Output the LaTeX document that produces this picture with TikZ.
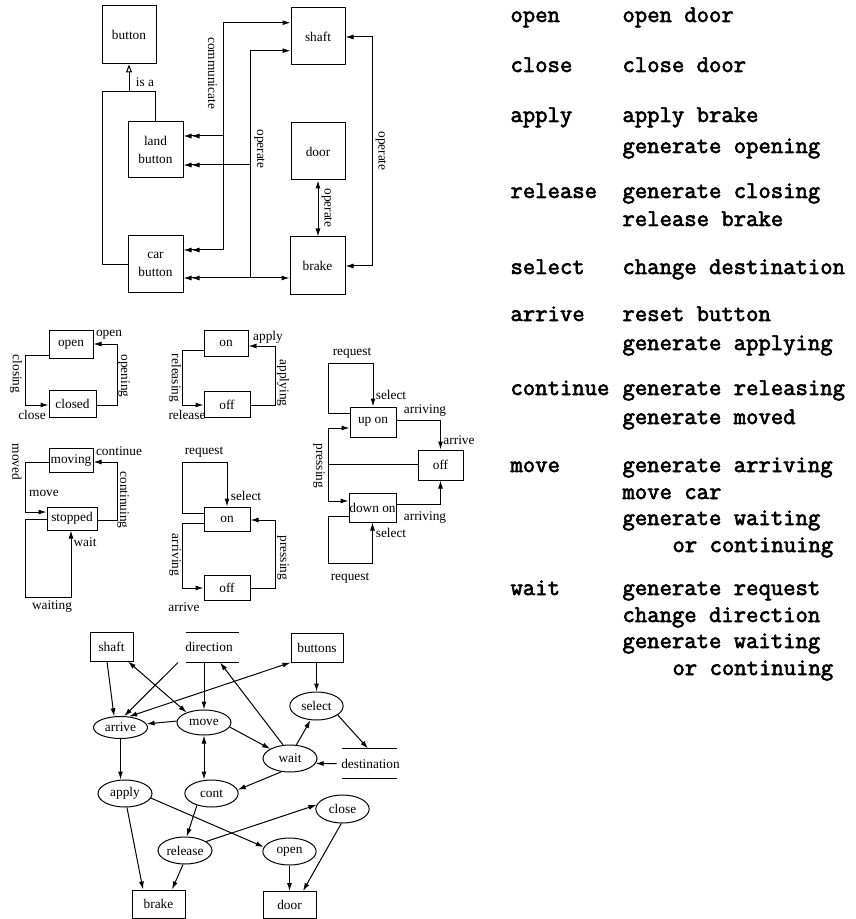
\documentclass[tikz,border=0pt]{standalone}
\usepackage{fontspec}
\setmainfont{Liberation Serif}
\newfontfamily\codefont{Latin Modern Mono}[AutoFakeBold=2.6]
\usetikzlibrary{arrows.meta,shapes.geometric}
\tikzset{
  >={Latex[length=6pt,width=3.75pt]},
  darr/.style={-{Latex[length=6pt,width=3.75pt] Latex[length=6pt,width=3.75pt]}},
  isatip/.style={-{Triangle[open,length=6pt,width=4.5pt]}},
  lbl/.style={inner sep=0pt, font=\fontsize{10}{12}\selectfont},
  vlbl/.style={lbl, rotate=-90},
  box/.style={draw, inner sep=0pt, align=center, font=\fontsize{10}{14}\selectfont},
  sbox/.style={draw, inner sep=0pt, font=\fontsize{10}{12}\selectfont},
  ell/.style={draw, ellipse, inner sep=0pt, font=\fontsize{10}{12}\selectfont},
  store/.style={inner sep=0pt},
  code/.style={anchor=base west, inner sep=0pt, font=\codefont\bfseries\fontsize{18}{20}\selectfont},
}
\begin{document}
\begin{tikzpicture}[x=0.75pt, y=-0.75pt, line width=0.75pt]
\useasboundingbox (0,0) rectangle (855,919);

% ---------------- class diagram ----------------
\node[box, minimum width=40.5pt, minimum height=43.5pt] (button) at (129,35) {button};
\node[box, minimum width=40.5pt, minimum height=42.75pt] (shaft) at (318,36.5) {shaft};
\node[box, minimum width=41.25pt, minimum height=42pt] (landb) at (155.5,150) {land\\button};
\node[box, minimum width=40.5pt, minimum height=42.75pt] (door) at (318,151.5) {door};
\node[box, minimum width=41.25pt, minimum height=42.75pt] (carb) at (155.5,264.5) {car\\button};
\node[box, minimum width=41.25pt, minimum height=43.5pt] (brake) at (317.5,266) {brake};

\coordinate (isaL) at (102,92);
\draw (carb.west) -| (isaL) -- (landb.north |- isaL) -- (landb.north);
\draw[isatip] (button.south |- isaL) -- (button.south);
\node[lbl] (lisa) at (145,82) {is a};

\coordinate (cT) at (223,22.7);
\coordinate (cM) at (223,136);
\coordinate (cB) at (223,250);
\draw[->] (cB) -- (cT) -- (shaft.west |- cT);
\draw[darr] (cM) -- (landb.east |- cM);
\draw[darr] (cB) -- (carb.east |- cB);
\node[vlbl] (lcomm) at (212.5,73) {communicate};

\coordinate (oT) at (250,50.7);
\coordinate (oM) at (250,165);
\coordinate (oB) at (250,278);
\draw[->] (oB) -- (oT) -- (shaft.west |- oT);
\draw[darr] (oM) -- (landb.east |- oM);
\draw[darr] (oB) -- (carb.east |- oB);
\draw[->] (oB) -- (brake.west |- oB);
\node[vlbl] (lop1) at (259.5,149) {operate};

\draw[<->] (door.south) -- (door.south |- brake.north);
\node[vlbl] (lop2) at (327,208) {operate};

\coordinate (rT) at (372,37);
\coordinate (rB) at (372,266);
\draw[<->] (shaft.east |- rT) -- (rT) -- (rB) -- (brake.east |- rB);
\node[vlbl] (lop3) at (381,151) {operate};

% ---------------- state machine: door ----------------
\node[sbox, minimum width=33pt, minimum height=20.25pt] (aOpen) at (71,344.5) {open};
\node[sbox, minimum width=35.25pt, minimum height=20.25pt] (aClosed) at (72.5,403.5) {closed};
\draw[->] (aOpen.west |- 0,355) -| (25,405) -- (aClosed.west |- 0,405);
\draw[->] (aClosed.east |- 0,405) -| (117,344) -- (aOpen.east |- 0,344);
\node[vlbl] (la1) at (16,374) {closing};
\node[lbl] (la2) at (32,415) {close};
\node[lbl] (la3) at (109,335) {open};
\node[vlbl] (la4) at (124,376) {opening};

% ---------------- state machine: brake ----------------
\node[sbox, minimum width=33pt, minimum height=19.5pt] (bOn) at (226,343.5) {on};
\node[sbox, minimum width=34.5pt, minimum height=19.5pt] (bOff) at (227,404.5) {off};
\draw[->] (bOn.west |- 0,350) -| (182,405) -- (bOff.west |- 0,405);
\draw[->] (bOff.east |- 0,405) -| (275,346) -- (bOn.east |- 0,346);
\node[vlbl] (lb1) at (175,378) {releasing};
\node[lbl] (lb2) at (187,415) {release};
\node[lbl] (lb3) at (268,337) {apply};
\node[vlbl] (lb4) at (283,383) {applying};

% ---------------- state machine: motor ----------------
\node[sbox, minimum width=33pt, minimum height=18pt] (cMov) at (71,460.5) {moving};
\node[sbox, minimum width=37.5pt, minimum height=17.25pt] (cStop) at (72,518.5) {stopped};
\draw[->] (cMov.west |- 0,462) -| (25,512) -- (cStop.west |- 0,512);
\draw[->] (cStop.east |- 0,520) -| (117,462) -- (cMov.east |- 0,462);
\draw[->] (cStop.west |- 0,519) -| (25,597) -| (cStop.south -| 71,0);
\node[vlbl] (lc1) at (17,462) {moved};
\node[lbl] (lc2) at (44,493) {move};
\node[lbl] (lc3) at (119,451) {continue};
\node[vlbl] (lc4) at (123,500) {continuing};
\node[lbl] (lc5) at (85,542) {wait};
\node[lbl] (lc6) at (52,607) {waiting};

% ---------------- state machine: landing buttons ----------------
\node[sbox, minimum width=34.5pt, minimum height=18pt] (dOn) at (227,519) {on};
\node[sbox, minimum width=34.5pt, minimum height=18.75pt] (dOff) at (227,587.5) {off};
\draw[->] (dOn.west |- 0,513) -| (182,462) -| (dOn.north);
\draw[->] (dOn.west |- 0,523) -| (182,588) -- (dOff.west |- 0,588);
\draw[->] (dOff.east |- 0,588) -| (275,520) -- (dOn.east |- 0,520);
\node[lbl] (ld1) at (204,452) {request};
\node[lbl] (ld2) at (246,496) {select};
\node[vlbl] (ld3) at (175,555) {arriving};
\node[lbl] (ld4) at (184,607) {arrive};
\node[vlbl] (ld5) at (283,558) {pressing};

% ---------------- state machine: car buttons ----------------
\node[sbox, minimum width=34.5pt, minimum height=22.5pt] (eUp) at (373,422) {up on};
\node[sbox, minimum width=33.75pt, minimum height=22.5pt] (eOff) at (440.5,465) {off};
\node[sbox, minimum width=35.25pt, minimum height=21.75pt] (eDown) at (372.5,507.5) {down on};
\coordinate (ep) at (328,464);
\draw[->] (eUp.west |- 0,413) -| (328,363) -| (eUp.north);
\draw[->] (eUp.east |- 0,420) -| (eOff.north);
\draw[->] (eOff.west |- ep) -- (ep) |- (eUp.west |- 0,428);
\draw[->] (ep) |- (eDown.west |- 0,501);
\draw[->] (eDown.east |- 0,504) -| (eOff.south);
\draw[->] (eDown.west |- 0,516) -| (328,563) -| (eDown.south);
\node[lbl] (le1) at (352,353) {request};
\node[lbl] (le2) at (391,395) {select};
\node[lbl] (le3) at (425,411) {arriving};
\node[lbl] (le4) at (459,440) {arrive};
\node[vlbl] (le5) at (319,466) {pressing};
\node[lbl] (le6) at (425,518) {arriving};
\node[lbl] (le7) at (391,533) {select};
\node[lbl] (le8) at (350,578) {request};

% ---------------- data flow diagram ----------------
\node[box, minimum width=32.25pt, minimum height=21.75pt] (fShaft) at (111.5,646.5) {shaft};
\node[store, minimum width=39pt, minimum height=21.75pt] (fDir) at (212,647.5) {};
\draw (fDir.north west) -- (fDir.north east);
\draw (fDir.south west) -- (fDir.south east);
\node[lbl] (fDirT) at (209,647) {direction};
\node[box, minimum width=39pt, minimum height=21.75pt] (fButtons) at (317,647.5) {buttons};
\node[ell, minimum width=40.5pt, minimum height=16.5pt] (fArrive) at (120.5,727.5) {arrive};
\node[ell, minimum width=40.5pt, minimum height=18.75pt] (fMove) at (204,722.5) {move};
\node[ell, minimum width=40pt, minimum height=21pt] (fSelect) at (316.5,706) {select};
\node[ell, minimum width=40.5pt, minimum height=20.25pt] (fWait) at (290,758.5) {wait};
\node[store, minimum width=40.5pt, minimum height=21.75pt] (fDest) at (369,763.5) {};
\draw (fDest.north west) -- (fDest.north east);
\draw (fDest.south west) -- (fDest.south east);
\node[lbl] (fDestT) at (370.5,764) {destination};
\node[ell, minimum width=40.5pt, minimum height=20.25pt] (fApply) at (125,793.5) {apply};
\node[ell, minimum width=40pt, minimum height=20.25pt] (fCont) at (211.5,793.5) {cont};
\node[ell, minimum width=40pt, minimum height=21pt] (fClose) at (342.5,809) {close};
\node[ell, minimum width=40.5pt, minimum height=20.25pt] (fRelease) at (185,850.5) {release};
\node[ell, minimum width=40pt, minimum height=20.25pt] (fOpen) at (289.5,851.5) {open};
\node[box, minimum width=39.75pt, minimum height=21pt] (fBrake) at (158.5,904) {brake};
\node[box, minimum width=39.75pt, minimum height=20.25pt] (fDoor) at (289.5,905) {door};

\draw[->] (fShaft.south -| 107,0) -- (fArrive.120);
\draw[<->] (fShaft.south -| 128,0) -- (fMove.150);
\draw[->] (fDir.south -| 178,0) -- (fArrive.72);
\draw[->] (fDir.south -| fMove.north) -- (fMove.north);
\draw[<->] (fButtons.south west) -- (fArrive.52);
\draw[->] (fWait.117) -- (fDir.south -| 220,0);
\draw[->] (fMove.177) -- (fArrive.8);
\draw[->] (fMove.350) -- (fWait.154);
\draw[->] (fButtons.south -| fSelect.north) -- (fSelect.north);
\draw[->] (fWait.65) -- (fSelect.247);
\draw[->] (fSelect.337) -- (fDest.north -| 368,0);
\draw[->] ([xshift=-3.75pt]fDest.west) -- (fWait.349);
\draw[<->] (fMove.south) -- (fCont.north -| fMove.south);
\draw[->] (fWait.237) -- (fCont.8);
\draw[->] (fArrive.south) -- (fApply.north -| fArrive.south);
\draw[->] (fApply.278) -- (fBrake.north -| 143,0);
\draw[->] (fApply.350) -- (fOpen.170);
\draw[->] (fCont.219) -- (fRelease.83);
\draw[->] (fRelease.23) -- (fClose.171);
\draw[->] (fRelease.262) -- (fBrake.north -| 172,0);
\draw[->] (fOpen.south) -- (fDoor.north -| fOpen.south);
\draw[->] (fClose.265) -- (fDoor.north -| 303,0);

% ---------------- operations text ----------------
\node[code] (k1) at (510,22) {open};
\node[code] (v1) at (622,22) {open door};
\node[code] (k2) at (510,72) {close};
\node[code] (v2) at (622,72) {close door};
\node[code] (k3) at (510,122) {apply};
\node[code] (v3a) at (622,122) {apply brake};
\node[code] (v3b) at (622,153) {generate opening};
\node[code] (k4) at (510,198) {release};
\node[code] (v4a) at (622,198) {generate closing};
\node[code] (v4b) at (622,226) {release brake};
\node[code] (k5) at (510,274) {select};
\node[code] (v5) at (622,274) {change destination};
\node[code] (k6) at (510,321) {arrive};
\node[code] (v6a) at (622,321) {reset button};
\node[code] (v6b) at (622,350) {generate applying};
\node[code] (k7) at (510,395) {continue};
\node[code] (v7a) at (622,395) {generate releasing};
\node[code] (v7b) at (622,424) {generate moved};
\node[code] (k8) at (510,472) {move};
\node[code] (v8a) at (622,472) {generate arriving};
\node[code] (v8b) at (622,499) {move car};
\node[code] (v8c) at (622,525) {generate waiting};
\node[code] (v8d) at (672,552) {or continuing};
\node[code] (k9) at (510,595) {wait};
\node[code] (v9a) at (622,595) {generate request};
\node[code] (v9b) at (622,622) {change direction};
\node[code] (v9c) at (622,648) {generate waiting};
\node[code] (v9d) at (672,675) {or continuing};
\end{tikzpicture}
\end{document}
